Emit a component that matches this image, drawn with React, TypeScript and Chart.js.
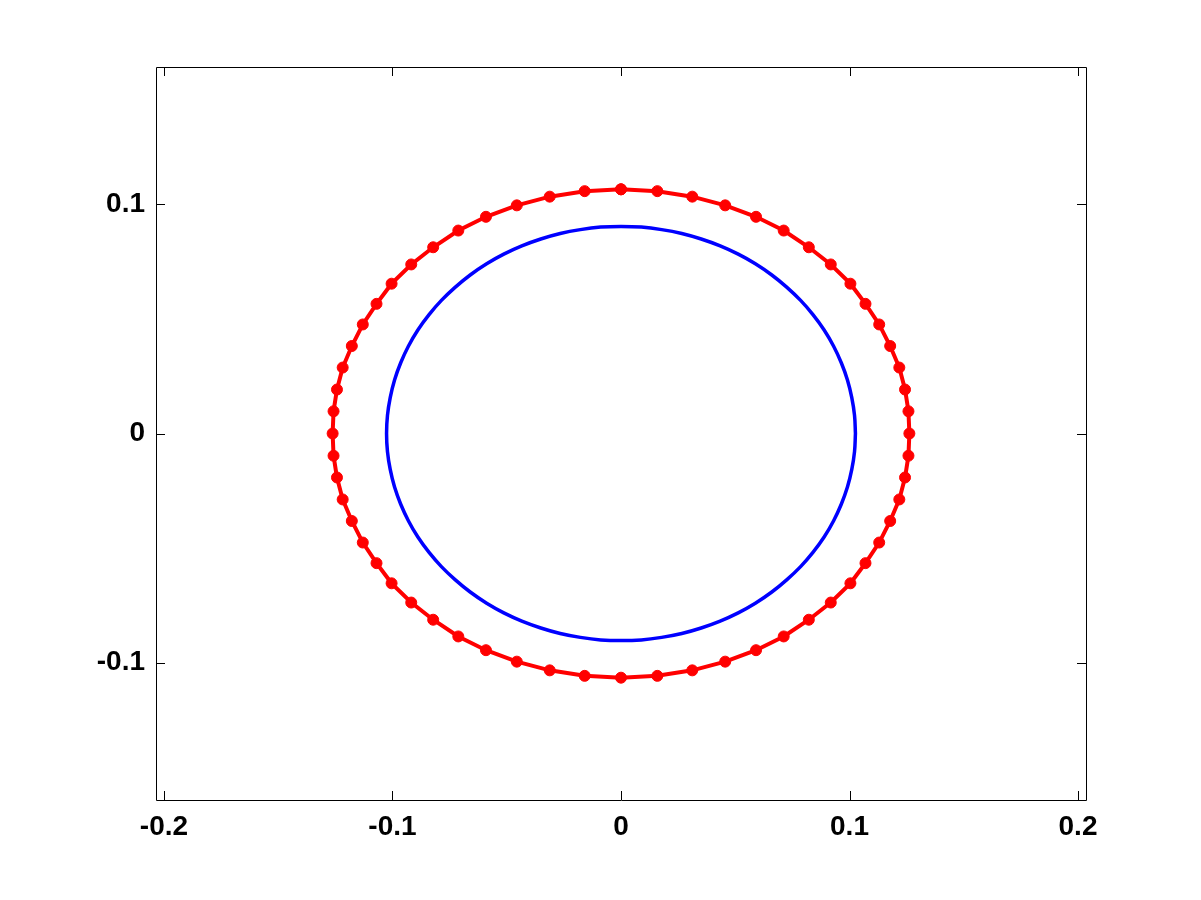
import React, { useEffect, useRef } from "react";
import { Chart, registerables } from "chart.js";

Chart.register(...registerables);

const xTickValues = [-0.2, -0.1, 0, 0.1, 0.2];
const xTickLabels = ["-0.2", "-0.1", "0", "0.1", "0.2"];
const yTickValues = [-0.1, 0, 0.1];
const yTickLabels = ["-0.1", "0", "0.1"];

const X_MIN = -0.2035;
const X_MAX = 0.2035;
const Y_MIN = -0.16;
const Y_MAX = 0.16;

// red curve with markers
const redX = [
  0, 0.0159, 0.0312, 0.0456, 0.0591, 0.0712, 0.0822, 0.0918, 0.1004, 0.107, 0.113, 0.1178, 0.1218, 0.1243, 0.1258, 0.1262,
  0.1258, 0.1243, 0.1218, 0.1178, 0.113, 0.107, 0.1004, 0.0918, 0.0822, 0.0712, 0.0591, 0.0456, 0.0312, 0.0159, 0,
  -0.0159, -0.0312, -0.0456, -0.0591, -0.0712, -0.0822, -0.0918, -0.1004, -0.107, -0.113, -0.1178, -0.1218, -0.1243, -0.1258, -0.1262,
  -0.1258, -0.1243, -0.1218, -0.1178, -0.113, -0.107, -0.1004, -0.0918, -0.0822, -0.0712, -0.0591, -0.0456, -0.0312, -0.0159, 0,
];
const redY = [
  0.1066, 0.1058, 0.1034, 0.0996, 0.0946, 0.0886, 0.0813, 0.0738, 0.0654, 0.0566, 0.0476, 0.0382, 0.0288, 0.0192, 0.0097, 0,
  -0.0097, -0.0192, -0.0288, -0.0382, -0.0476, -0.0566, -0.0654, -0.0738, -0.0813, -0.0886, -0.0946, -0.0996, -0.1034, -0.1058, -0.1066,
  -0.1058, -0.1034, -0.0996, -0.0946, -0.0886, -0.0813, -0.0738, -0.0654, -0.0566, -0.0476, -0.0382, -0.0288, -0.0192, -0.0097, 0,
  0.0097, 0.0192, 0.0288, 0.0382, 0.0476, 0.0566, 0.0654, 0.0738, 0.0813, 0.0886, 0.0946, 0.0996, 0.1034, 0.1058, 0.1066,
];

// blue smooth curve
const blueX = [
  0.1026, 0.1022, 0.101, 0.0991, 0.0964, 0.093, 0.0889, 0.084, 0.0786, 0.0725, 0.066, 0.0588, 0.0513, 0.0434, 0.0351, 0.0266, 0.0178, 0.0089, 0,
  -0.0089, -0.0178, -0.0266, -0.0351, -0.0434, -0.0513, -0.0588, -0.066, -0.0725, -0.0786, -0.084, -0.0889, -0.093, -0.0964, -0.0991, -0.101, -0.1022, -0.1026,
  -0.1022, -0.101, -0.0991, -0.0964, -0.093, -0.0889, -0.084, -0.0786, -0.0725, -0.066, -0.0588, -0.0513, -0.0434, -0.0351, -0.0266, -0.0178, -0.0089, 0,
  0.0089, 0.0178, 0.0266, 0.0351, 0.0434, 0.0513, 0.0588, 0.066, 0.0725, 0.0786, 0.084, 0.0889, 0.093, 0.0964, 0.0991, 0.101, 0.1022, 0.1026,
];
const blueY = [
  0, 0.0079, 0.0157, 0.0234, 0.0309, 0.0382, 0.0452, 0.0519, 0.0581, 0.0639, 0.0692, 0.0741, 0.0783, 0.0819, 0.0849, 0.0873, 0.089, 0.0901, 0.0904,
  0.0901, 0.089, 0.0873, 0.0849, 0.0819, 0.0783, 0.0741, 0.0692, 0.0639, 0.0581, 0.0519, 0.0452, 0.0382, 0.0309, 0.0234, 0.0157, 0.0079, 0,
  -0.0079, -0.0157, -0.0234, -0.0309, -0.0382, -0.0452, -0.0519, -0.0581, -0.0639, -0.0692, -0.0741, -0.0783, -0.0819, -0.0849, -0.0873, -0.089, -0.0901, -0.0904,
  -0.0901, -0.089, -0.0873, -0.0849, -0.0819, -0.0783, -0.0741, -0.0692, -0.0639, -0.0581, -0.0519, -0.0452, -0.0382, -0.0309, -0.0234, -0.0157, -0.0079, 0,
];

const FONT = { family: "'Liberation Sans', Arial, Helvetica, sans-serif", size: 28, weight: "bold" as const };

const framePlugin = {
  id: "matlabFrame",
  afterDraw(chart: any) {
    const { ctx, chartArea } = chart;
    const { left, right, top, bottom } = chartArea;
    const xs = chart.scales.x;
    const ys = chart.scales.y;
    const tl = 9;
    ctx.save();
    ctx.strokeStyle = "#000";
    ctx.lineWidth = 1;
    ctx.beginPath();
    ctx.rect(Math.round(left) + 0.5, Math.round(top) + 0.5, Math.round(right - left), Math.round(bottom - top));
    for (const v of xTickValues) {
      const px = Math.round(xs.getPixelForValue(v)) + 0.5;
      ctx.moveTo(px, bottom);
      ctx.lineTo(px, bottom - tl);
      ctx.moveTo(px, top);
      ctx.lineTo(px, top + tl);
    }
    for (const v of yTickValues) {
      const py = Math.round(ys.getPixelForValue(v)) + 0.5;
      ctx.moveTo(left, py);
      ctx.lineTo(left + tl, py);
      ctx.moveTo(right, py);
      ctx.lineTo(right - tl, py);
    }
    ctx.stroke();
    ctx.restore();
  },
};

function labelFor(values: number[], labels: string[], value: number) {
  const i = values.findIndex((v) => Math.abs(v - value) < 1e-9);
  return i >= 0 ? labels[i] : "";
}

export default function App() {
  const canvasRef = useRef<HTMLCanvasElement | null>(null);

  useEffect(() => {
    if (!canvasRef.current) return;
    const red = redX.map((x, i) => ({ x, y: redY[i] }));
    const blue = blueX.map((x, i) => ({ x, y: blueY[i] }));
    const chart = new Chart(canvasRef.current, {
      type: "scatter",
      data: {
        datasets: [
          {
            data: blue,
            showLine: true,
            borderColor: "#0000ff",
            borderWidth: 3.5,
            pointRadius: 0,
            tension: 0.4,
          },
          {
            data: red,
            showLine: true,
            borderColor: "#ff0000",
            backgroundColor: "#ff0000",
            borderWidth: 4,
            pointRadius: 5.5,
            pointBorderWidth: 1,
            pointBorderColor: "#ff0000",
            pointBackgroundColor: "#ff0000",
            tension: 0,
          },
        ],
      },
      options: {
        animation: false,
        responsive: true,
        maintainAspectRatio: false,
        layout: { padding: { top: 67, right: 115, bottom: 0, left: 0 } },
        plugins: { legend: { display: false }, tooltip: { enabled: false } },
        scales: {
          x: {
            type: "linear",
            min: X_MIN,
            max: X_MAX,
            grid: { display: false, drawTicks: false },
            border: { display: false },
            afterBuildTicks: (scale: any) => {
              scale.ticks = xTickValues.map((v) => ({ value: v }));
            },
            afterFit: (scale: any) => {
              scale.height = 100;
            },
            ticks: {
              color: "#000",
              font: FONT,
              padding: 10,
              maxRotation: 0,
              autoSkip: false,
              callback: (value: any) => labelFor(xTickValues, xTickLabels, Number(value)),
            },
          },
          y: {
            type: "linear",
            min: Y_MIN,
            max: Y_MAX,
            grid: { display: false, drawTicks: false },
            border: { display: false },
            afterBuildTicks: (scale: any) => {
              scale.ticks = yTickValues.map((v) => ({ value: v }));
            },
            afterFit: (scale: any) => {
              scale.width = 156;
            },
            ticks: {
              color: "#000",
              font: FONT,
              padding: 11,
              autoSkip: false,
              callback: (value: any) => labelFor(yTickValues, yTickLabels, Number(value)),
            },
          },
        },
      },
      plugins: [framePlugin],
    });
    return () => chart.destroy();
  }, []);

  return (
    <div style={{ position: "absolute", left: 0, top: 0, width: 1201, height: 900, background: "#fff" }}>
      <canvas ref={canvasRef} />
    </div>
  );
}
